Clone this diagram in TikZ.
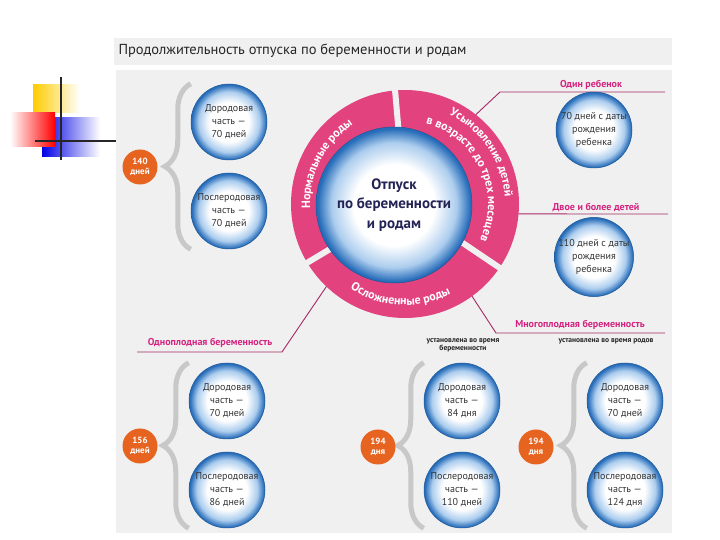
\documentclass[tikz,border=0pt]{standalone}
\usepackage{fontspec}
\setmainfont{PT Sans}
\usetikzlibrary{positioning,calc,decorations.text,decorations.pathreplacing}

\definecolor{panelgray}{RGB}{240,240,240}
\definecolor{ringpink}{RGB}{226,66,126}
\definecolor{calloutline}{RGB}{165,40,100}
\definecolor{notepink}{RGB}{212,36,128}
\definecolor{daysorange}{RGB}{230,100,32}
\definecolor{ballmid}{RGB}{172,205,238}
\definecolor{balledge}{RGB}{38,108,185}
\definecolor{bracegray}{RGB}{200,200,200}
\definecolor{navytext}{RGB}{35,35,85}

\newcommand{\ringfont}{\fontsize{12}{14}\selectfont\bfseries}

\pgfdeclareradialshading{ballshade}{\pgfpoint{0bp}{0bp}}{%
  color(0bp)=(white); color(13bp)=(white); color(20bp)=(ballmid);
  color(24.5bp)=(balledge); color(25bp)=(balledge); color(50bp)=(balledge)}

\begin{document}
\begin{tikzpicture}[x=1pt, y=1pt,
    ball/.style={circle, minimum size=76, inner sep=0pt, shading=ballshade,
      draw=balledge!80!black, line width=0.5, align=center, text=black!80,
      font=\fontsize{10}{13}\selectfont},
    bigball/.style={ball, minimum size=156, text=navytext,
      font=\fontsize{15}{19.5}\selectfont\bfseries},
    days/.style={circle, fill=daysorange, minimum size=35, inner sep=0pt,
      align=center, text=white, font=\fontsize{9}{10.5}\selectfont\bfseries},
    note/.style={text=notepink, font=\fontsize{10}{12}\selectfont\bfseries},
    subnote/.style={align=center, anchor=north, text=black!85,
      font=\fontsize{7.5}{8.5}\selectfont\bfseries},
    callout/.style={calloutline, line width=0.9},
    bracket/.style={bracegray, line width=5, decorate,
      decoration={brace, amplitude=26}},
    ringtext/.style={decorate, decoration={text along path, text align=center,
      text color=white}}]

    \useasboundingbox (0,0) rectangle (720,540);
    \fill[white] (0,0) rectangle (720,540);

    % corner logo
    \shade[left color=yellow!60!orange, middle color=yellow!60!orange, right color=white] (33,427) rectangle (80,455);
    \shade[left color=blue!90!black, middle color=blue!90!black, right color=white] (42,383) rectangle (100,422);
    \shade[left color=white, right color=red] (10,393) rectangle (55,427);
    \draw[line width=2.2, black!85] (61,380) -- (61,463);
    \draw[line width=2.2, black!85] (35,399) -- (116,399);

    % title and panel
    \fill[panelgray] (114,475) rectangle (672,502);
    \node[anchor=west, text=black!85, font=\fontsize{14.5}{16}\selectfont] (title) at (115,489)
      {Продолжительность отпуска по беременности и родам};
    \fill[panelgray] (116,7) rectangle (672,470);

    % ring
    \coordinate (ringc) at (405,336);
    \fill[ringpink] (ringc) circle (114);
    \foreach \a in {95,211,-34}
      \draw[panelgray, line width=6] (ringc) -- ++(\a:125);

    \path[ringtext, shift={(ringc)}, decoration={text={|\ringfont|Нормальные роды}}]
      (208:95) arc[start angle=208, end angle=98, radius=95];
    \path[ringtext, shift={(ringc)}, decoration={text={|\ringfont|Усыновление детей}}]
      (80:100) arc[start angle=80, end angle=-12, radius=100];
    \path[ringtext, shift={(ringc)}, decoration={text={|\ringfont|в возрасте до трех месяцев}}]
      (95:83) arc[start angle=95, end angle=-45, radius=83];
    \path[ringtext, shift={(ringc)}, decoration={text={|\ringfont|Осложненные роды}}]
      (217:101) arc[start angle=217, end angle=317, radius=101];

    \node[bigball] (leave) at (394,335) {Отпуск\\по беременности\\и родам};

    % callouts
    \path (ringc) ++(51.6:114) coordinate (c1);
    \path (ringc) ++(-5:114) coordinate (c2);
    \path (ringc) ++(-54:114) coordinate (c3);
    \path (ringc) ++(226.4:114) coordinate (c4);
    \coordinate (k1) at (500,448);
    \coordinate (e1) at (665,448);
    \coordinate (e2) at (668,326);
    \coordinate (k3) at (496,207);
    \coordinate (e3) at (665,207);
    \coordinate (k4) at (282,188);
    \coordinate (e4) at (137,188);
    \draw[callout] (c1) -- (k1) -- (e1);
    \draw[callout] (c2) -- (e2);
    \draw[callout] (c3) -- (k3) -- (e3);
    \draw[callout] (c4) -- (k4) -- (e4);

    \node[note] (one) at (591,455) {Один ребенок};
    \node[note] (two) at (596,333) {Двое и более детей};
    \node[note] (multi) at (580,215) {Многоплодная беременность};
    \node[note] (single) at (210,197) {Одноплодная беременность};
    \node[subnote] (inpreg) at (463,205) {установлена во время\\беременности};
    \node[subnote] (inbirth) at (606,205) {установлена во время родов};

    % circles
    \foreach \nm/\x/\y/\txt in {
        tlpre/229/418/{Дородовая\\часть —\\70 дней},
        tlpost/229/329/{Послеродовая\\часть —\\70 дней},
        trone/594/410/{70 дней с даты\\рождения\\ребенка},
        trtwo/594/283/{110 дней с даты\\рождения\\ребенка},
        blpre/227/139/{Дородовая\\часть —\\70 дней},
        blpost/227/50/{Послеродовая\\часть —\\86 дней},
        bmpre/462/139/{Дородовая\\часть —\\84 дня},
        bmpost/462/50/{Послеродовая\\часть —\\110 дней},
        brpre/625/139/{Дородовая\\часть —\\70 дней},
        brpost/625/50/{Послеродовая\\часть —\\124 дня}}
      \node[ball] (\nm) at (\x,\y) {\txt};

    % braces
    \foreach \g in {tl,bl,bm,br}
      \draw[bracket] (\g post.west |- \g post.south) -- (\g pre.west |- \g pre.north);

    \node[days] (tldays) at (140,373) {140\\дней};
    \node[days] (bldays) at (140,94) {156\\дней};
    \node[days] (bmdays) at (378,93) {194\\дня};
    \node[days] (brdays) at (536,93) {194\\дня};

\end{tikzpicture}
\end{document}
